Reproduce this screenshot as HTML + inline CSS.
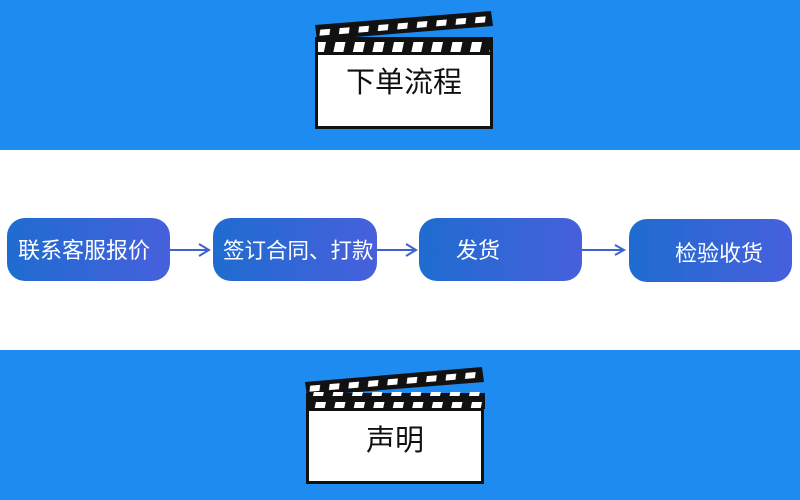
<!DOCTYPE html>
<html><head><meta charset="utf-8"><style>
html,body{margin:0;padding:0;width:800px;height:500px;overflow:hidden;background:#fff}
</style></head><body>
<svg width="800" height="500" viewBox="0 0 800 500" xmlns="http://www.w3.org/2000/svg" font-family="Liberation Sans, Noto Sans CJK SC, sans-serif">
<defs>
<linearGradient id="g" x1="0" y1="0" x2="1" y2="0">
<stop offset="0" stop-color="#1f6cd0"/><stop offset="1" stop-color="#4760dc"/>
</linearGradient>
<pattern id="st" x="0" y="0" width="19.5" height="20" patternUnits="userSpaceOnUse">
<polygon points="4,3 14,3 11,17 1,17" fill="#fff"/>
</pattern>
</defs>
<rect x="0" y="0" width="800" height="150" fill="#1e8bf0"/>
<rect x="0" y="350" width="800" height="150" fill="#1e8bf0"/>

<g>
<polygon points="315,25 491,11 493,26 317,40" fill="#111"/>
<g transform="translate(316,27) rotate(-4.6)"><rect x="2" y="-2" width="174" height="11" fill="url(#st)"/></g>
<rect x="315" y="37" width="178" height="16" fill="#111"/>
<rect x="318" y="37" width="172" height="16" fill="url(#st)" transform="translate(0,-1)"/>
<rect x="316.5" y="53.5" width="175" height="74" fill="#fff" stroke="#111" stroke-width="3"/>
<text x="404" y="92" font-size="29" text-anchor="middle" fill="#111">下单流程</text>
</g>

<g>
<polygon points="305,382 482,367 484,382 307,396" fill="#111"/>
<g transform="translate(306,383) rotate(-4.7)"><rect x="2" y="-2" width="174" height="11" fill="url(#st)"/></g>
<rect x="306" y="393" width="179" height="16" fill="#111"/>
<rect x="309" y="393" width="174" height="16" fill="url(#st)" transform="translate(0,-1)"/>
<rect x="307.5" y="409.5" width="175" height="73" fill="#fff" stroke="#111" stroke-width="3"/>
<text x="395" y="450" font-size="29" text-anchor="middle" fill="#111">声明</text>
</g>

<g fill="url(#g)">
<rect x="7" y="218" width="163" height="63" rx="18"/>
<rect x="213" y="218" width="164" height="63" rx="18"/>
<rect x="419" y="218" width="163" height="63" rx="18"/>
<rect x="629" y="219" width="163" height="63" rx="18"/>
</g>
<g stroke="#3d63cf" stroke-width="2" fill="none">
<line x1="170" y1="250" x2="208" y2="250"/>
<polyline points="199,244 209,250 199,256"/>
<line x1="377" y1="250" x2="415" y2="250"/>
<polyline points="406,244 416,250 406,256"/>
<line x1="582" y1="250" x2="624" y2="250"/>
<polyline points="615,245 624,250 615,255"/>
</g>
<g fill="#fff">
<text x="18" y="258" font-size="22">联系客服报价</text>
<text x="223" y="258" font-size="21.5">签订合同、打款</text>
<text x="478" y="258" font-size="22" text-anchor="middle">发货</text>
<text x="675" y="261" font-size="22">检验收货</text>
</g>
</svg>
</body></html>
